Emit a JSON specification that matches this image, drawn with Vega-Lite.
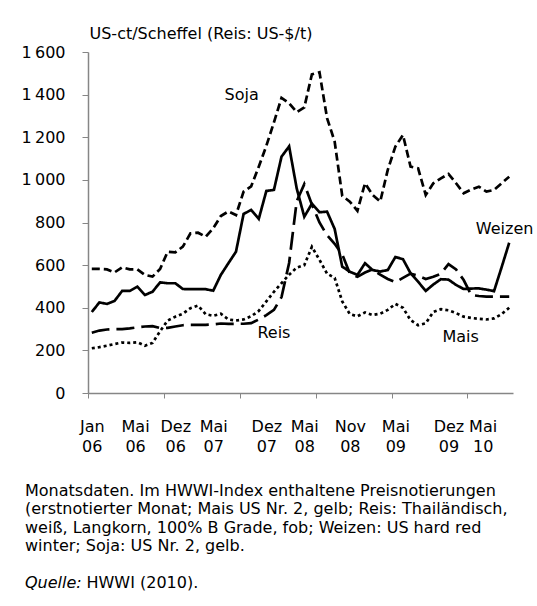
{
  "$schema": "https://vega.github.io/schema/vega-lite/v6.json",
  "width": 425,
  "height": 341,
  "autosize": {"type": "none"},
  "padding": {"left": 88, "top": 52, "right": 24, "bottom": 213},
  "background": "white",
  "config": {"view": {"stroke": null}, "font": "DejaVu Sans"},
  "title": {
    "text": [
      "Monatsdaten. Im HWWI-Index enthaltene Preisnotierungen",
      "(erstnotierter Monat; Mais US Nr. 2, gelb; Reis: Thailändisch,",
      "weiß, Langkorn, 100% B Grade, fob; Weizen: US hard red",
      "winter; Soja: US Nr. 2, gelb."
    ],
    "subtitle": "Quelle:",
    "orient": "bottom",
    "anchor": "start",
    "frame": "group",
    "dx": -63,
    "offset": -94.5,
    "font": "DejaVu Sans",
    "fontSize": 16,
    "fontStyle": "normal",
    "fontWeight": "normal",
    "color": "black",
    "lineHeight": 18.5,
    "baseline": "alphabetic",
    "subtitleFont": "DejaVu Sans",
    "subtitleFontSize": 16,
    "subtitleFontStyle": "italic",
    "subtitleColor": "black",
    "subtitlePadding": 20.5
  },
  "datasets": {
    "preise": [
      {"monat": "2006-01", "i": 0, "Soja": 582, "Weizen": 380, "Reis": 283, "Mais": 210},
      {"monat": "2006-02", "i": 1, "Soja": 582, "Weizen": 425, "Reis": 293, "Mais": 215},
      {"monat": "2006-03", "i": 2, "Soja": 580, "Weizen": 418, "Reis": 298, "Mais": 222},
      {"monat": "2006-04", "i": 3, "Soja": 566, "Weizen": 432, "Reis": 300, "Mais": 230},
      {"monat": "2006-05", "i": 4, "Soja": 590, "Weizen": 479, "Reis": 300, "Mais": 237},
      {"monat": "2006-06", "i": 5, "Soja": 580, "Weizen": 479, "Reis": 303, "Mais": 235},
      {"monat": "2006-07", "i": 6, "Soja": 580, "Weizen": 499, "Reis": 308, "Mais": 238},
      {"monat": "2006-08", "i": 7, "Soja": 554, "Weizen": 460, "Reis": 312, "Mais": 222},
      {"monat": "2006-09", "i": 8, "Soja": 546, "Weizen": 475, "Reis": 314, "Mais": 235},
      {"monat": "2006-10", "i": 9, "Soja": 582, "Weizen": 519, "Reis": 305, "Mais": 290},
      {"monat": "2006-11", "i": 10, "Soja": 663, "Weizen": 515, "Reis": 306, "Mais": 340},
      {"monat": "2006-12", "i": 11, "Soja": 660, "Weizen": 515, "Reis": 312, "Mais": 358},
      {"monat": "2007-01", "i": 12, "Soja": 687, "Weizen": 488, "Reis": 318, "Mais": 372},
      {"monat": "2007-02", "i": 13, "Soja": 749, "Weizen": 487, "Reis": 320, "Mais": 398},
      {"monat": "2007-03", "i": 14, "Soja": 752, "Weizen": 487, "Reis": 320, "Mais": 410},
      {"monat": "2007-04", "i": 15, "Soja": 733, "Weizen": 487, "Reis": 320, "Mais": 370},
      {"monat": "2007-05", "i": 16, "Soja": 773, "Weizen": 480, "Reis": 322, "Mais": 362},
      {"monat": "2007-06", "i": 17, "Soja": 830, "Weizen": 554, "Reis": 326, "Mais": 372},
      {"monat": "2007-07", "i": 18, "Soja": 852, "Weizen": 609, "Reis": 324, "Mais": 345},
      {"monat": "2007-08", "i": 19, "Soja": 835, "Weizen": 663, "Reis": 325, "Mais": 340},
      {"monat": "2007-09", "i": 20, "Soja": 945, "Weizen": 840, "Reis": 325, "Mais": 345},
      {"monat": "2007-10", "i": 21, "Soja": 970, "Weizen": 859, "Reis": 328, "Mais": 360},
      {"monat": "2007-11", "i": 22, "Soja": 1062, "Weizen": 817, "Reis": 345, "Mais": 385},
      {"monat": "2007-12", "i": 23, "Soja": 1160, "Weizen": 948, "Reis": 365, "Mais": 430},
      {"monat": "2008-01", "i": 24, "Soja": 1270, "Weizen": 953, "Reis": 390, "Mais": 475},
      {"monat": "2008-02", "i": 25, "Soja": 1385, "Weizen": 1109, "Reis": 450, "Mais": 515},
      {"monat": "2008-03", "i": 26, "Soja": 1360, "Weizen": 1157, "Reis": 610, "Mais": 555},
      {"monat": "2008-04", "i": 27, "Soja": 1318, "Weizen": 960, "Reis": 900, "Mais": 588},
      {"monat": "2008-05", "i": 28, "Soja": 1340, "Weizen": 827, "Reis": 980, "Mais": 600},
      {"monat": "2008-06", "i": 29, "Soja": 1495, "Weizen": 888, "Reis": 885, "Mais": 686},
      {"monat": "2008-07", "i": 30, "Soja": 1505, "Weizen": 848, "Reis": 800, "Mais": 625},
      {"monat": "2008-08", "i": 31, "Soja": 1290, "Weizen": 851, "Reis": 740, "Mais": 560},
      {"monat": "2008-09", "i": 32, "Soja": 1180, "Weizen": 770, "Reis": 700, "Mais": 540},
      {"monat": "2008-10", "i": 33, "Soja": 925, "Weizen": 593, "Reis": 650, "Mais": 430},
      {"monat": "2008-11", "i": 34, "Soja": 898, "Weizen": 569, "Reis": 560, "Mais": 370},
      {"monat": "2008-12", "i": 35, "Soja": 855, "Weizen": 554, "Reis": 545, "Mais": 360},
      {"monat": "2009-01", "i": 36, "Soja": 984, "Weizen": 609, "Reis": 565, "Mais": 378},
      {"monat": "2009-02", "i": 37, "Soja": 929, "Weizen": 577, "Reis": 580, "Mais": 366},
      {"monat": "2009-03", "i": 38, "Soja": 898, "Weizen": 570, "Reis": 555, "Mais": 372},
      {"monat": "2009-04", "i": 39, "Soja": 1047, "Weizen": 577, "Reis": 535, "Mais": 390},
      {"monat": "2009-05", "i": 40, "Soja": 1156, "Weizen": 638, "Reis": 520, "Mais": 418},
      {"monat": "2009-06", "i": 41, "Soja": 1211, "Weizen": 628, "Reis": 540, "Mais": 400},
      {"monat": "2009-07", "i": 42, "Soja": 1062, "Weizen": 562, "Reis": 560, "Mais": 342},
      {"monat": "2009-08", "i": 43, "Soja": 1054, "Weizen": 522, "Reis": 550, "Mais": 318},
      {"monat": "2009-09", "i": 44, "Soja": 929, "Weizen": 479, "Reis": 535, "Mais": 327},
      {"monat": "2009-10", "i": 45, "Soja": 984, "Weizen": 509, "Reis": 545, "Mais": 380},
      {"monat": "2009-11", "i": 46, "Soja": 1007, "Weizen": 534, "Reis": 560, "Mais": 393},
      {"monat": "2009-12", "i": 47, "Soja": 1028, "Weizen": 532, "Reis": 605, "Mais": 388},
      {"monat": "2010-01", "i": 48, "Soja": 984, "Weizen": 507, "Reis": 580, "Mais": 375},
      {"monat": "2010-02", "i": 49, "Soja": 937, "Weizen": 488, "Reis": 530, "Mais": 358},
      {"monat": "2010-03", "i": 50, "Soja": 955, "Weizen": 490, "Reis": 460, "Mais": 352},
      {"monat": "2010-04", "i": 51, "Soja": 968, "Weizen": 491, "Reis": 455, "Mais": 348},
      {"monat": "2010-05", "i": 52, "Soja": 945, "Weizen": 485, "Reis": 452, "Mais": 345},
      {"monat": "2010-06", "i": 53, "Soja": 953, "Weizen": 478, "Reis": 452, "Mais": 350},
      {"monat": "2010-07", "i": 54, "Soja": 984, "Weizen": 590, "Reis": 452, "Mais": 370},
      {"monat": "2010-08", "i": 55, "Soja": 1015, "Weizen": 705, "Reis": 452, "Mais": 400}
    ],
    "beschriftung": [
      {"serie": "Soja", "i": 19.75, "wert": 1398},
      {"serie": "Weizen", "i": 54.4, "wert": 768},
      {"serie": "Reis", "i": 24.0, "wert": 280},
      {"serie": "Mais", "i": 48.6, "wert": 263}
    ]
  },
  "encoding": {
    "x": {
      "field": "i",
      "type": "quantitative",
      "scale": {"domain": [-0.5, 55.5], "nice": false, "zero": false},
      "axis": {
        "values": [-0.5, 0, 5.7, 9.5, 11, 16, 19.5, 23, 28, 29.5, 34, 39.5, 40, 47, 49.5, 51.5],
        "grid": false,
        "domainColor": "#868686",
        "domainWidth": 1.5,
        "tickColor": "#868686",
        "tickWidth": 1,
        "tickSize": 5,
        "tickOpacity": {"condition": {"test": "indexof([-0.5,9.5,19.5,29.5,39.5,49.5], datum.value) >= 0", "value": 1}, "value": 0},
        "labelExpr": "datum.value == 0 ? ['Jan','06'] : datum.value == 5.7 ? ['Mai','06'] : datum.value == 11 ? ['Dez','06'] : datum.value == 16 ? ['Mai','07'] : datum.value == 23 ? ['Dez','07'] : datum.value == 28 ? ['Mai','08'] : datum.value == 34 ? ['Nov','08'] : datum.value == 40 ? ['Mai','09'] : datum.value == 47 ? ['Dez','09'] : datum.value == 51.5 ? ['Mai','10'] : ''",
        "labelFont": "DejaVu Sans",
        "labelFontSize": 16,
        "labelColor": "black",
        "labelPadding": 20,
        "labelLineHeight": 20,
        "labelBaseline": "top",
        "labelAlign": "center",
        "labelOverlap": false,
        "labelFlush": false,
        "labelBound": false,
        "title": "HWWI (2010).",
        "titleX": -2,
        "titleY": 194,
        "titleAlign": "left",
        "titleBaseline": "alphabetic",
        "titleFont": "DejaVu Sans",
        "titleFontSize": 16,
        "titleFontWeight": "normal",
        "titleColor": "black"
      }
    },
    "y": {
      "field": "wert",
      "type": "quantitative",
      "scale": {"domain": [0, 1600], "nice": false},
      "axis": {
        "values": [0, 200, 400, 600, 800, 1000, 1200, 1400, 1600],
        "grid": false,
        "domainColor": "#868686",
        "domainWidth": 1.5,
        "tickColor": "#868686",
        "tickWidth": 1,
        "tickSize": 6,
        "labelPadding": 17,
        "labelExpr": "datum.value >= 1000 ? '1\u2009' + format(datum.value - 1000, '03d') : format(datum.value, 'd')",
        "labelFont": "DejaVu Sans",
        "labelFontSize": 16,
        "labelColor": "black",
        "title": "US-ct/Scheffel (Reis: US-$/t)",
        "titleAngle": 0,
        "titleX": 1,
        "titleY": -19,
        "titleAlign": "left",
        "titleBaseline": "middle",
        "titleFont": "DejaVu Sans",
        "titleFontSize": 16,
        "titleFontWeight": "normal",
        "titleColor": "black"
      }
    }
  },
  "layer": [
    {
      "data": {"name": "preise"},
      "transform": [{"fold": ["Soja", "Weizen", "Reis", "Mais"], "as": ["serie", "wert"]}],
      "mark": {"type": "line", "color": "black", "strokeWidth": 2.7},
      "encoding": {
        "detail": {"field": "serie", "type": "nominal"},
        "strokeDash": {
          "field": "serie",
          "type": "nominal",
          "scale": {"domain": ["Soja", "Weizen", "Reis", "Mais"], "range": [[8, 4], [1, 0], [18, 7], [3, 3]]},
          "legend": null
        }
      }
    },
    {
      "data": {"name": "beschriftung"},
      "mark": {"type": "text", "font": "DejaVu Sans", "fontSize": 16, "color": "black", "align": "center", "baseline": "middle"},
      "encoding": {
        "text": {"field": "serie", "type": "nominal"}
      }
    }
  ]
}
